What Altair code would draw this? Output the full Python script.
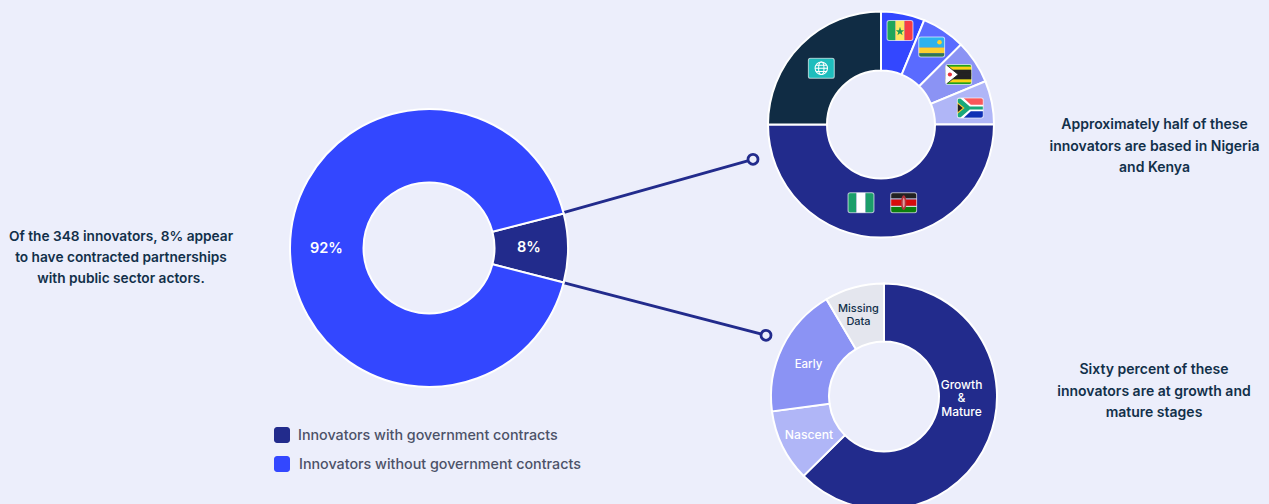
import base64
import altair as alt
import pandas as pd

FONT = "Inter"
BACKGROUND = "#eceefb"
NAVY = "#222b8c"
BLUE = "#3347ff"
TEXT_DARK = "#12304a"
TEXT_GREY = "#4c5268"

# Share of innovators with and without government contracts
contract_labels = ["Innovators with government contracts", "Innovators without government contracts"]
contract_values = [8, 92]
contract_colors = [NAVY, BLUE]

# Where the innovators with contracts are based, clockwise from the top
country_labels = ["Senegal", "Rwanda", "Zimbabwe", "South Africa", "Nigeria and Kenya", "Other"]
country_values = [6.25, 6.25, 6.25, 6.25, 50, 25]
country_colors = [BLUE, "#5a6bff", "#8b93f4", "#b0b6f7", NAVY, "#102c44"]

# Growth stage of the innovators with contracts, clockwise from the top
stage_labels = ["Growth & Mature", "Nascent", "Early", "Missing Data"]
stage_values = [62.6, 10.3, 18.6, 8.5]
stage_colors = [NAVY, "#b0b6f7", "#8b93f4", "#e4e6ee"]


def donut(labels, values, colors, cx, cy, outer, inner, start_deg=0.0):
    """One ring, stacked in the order of its labels and started at start_deg."""
    table = pd.DataFrame({"label": labels, "value": values, "order": range(len(labels))})
    start = start_deg * 3.141592653589793 / 180
    return alt.Chart(table).mark_arc(
        radius=outer, radius2=inner, stroke="#ffffff", strokeWidth=2
    ).encode(
        x=alt.value(cx),
        y=alt.value(cy),
        theta=alt.Theta(
            "value:Q",
            stack=True,
            scale=alt.Scale(domain=[0, sum(values)], range=[start, start + 2 * 3.141592653589793]),
        ),
        order=alt.Order("order:Q"),
        color=alt.Color(
            "label:N", scale=alt.Scale(domain=labels, range=colors), legend=None
        ),
    )


def text(content, x, y, size=14, weight=600, color=TEXT_DARK, align="center"):
    return alt.Chart(pd.DataFrame({"t": [content]})).mark_text(
        font=FONT, fontSize=size, fontWeight=weight, color=color, align=align, baseline="middle"
    ).encode(x=alt.value(x), y=alt.value(y), text="t:N")


def paragraph(lines, x, y, step, **style):
    return [text(line, x, y + i * step, **style) for i, line in enumerate(lines)]


def connector(x1, y1, x2, y2):
    line = alt.Chart(pd.DataFrame({"a": [0]})).mark_rule(color=NAVY, strokeWidth=2.8).encode(
        x=alt.value(x1), x2=alt.value(x2), y=alt.value(y1), y2=alt.value(y2)
    )
    end = alt.Chart(pd.DataFrame({"a": [0]})).mark_point(
        filled=True, fill=BACKGROUND, stroke=NAVY, strokeWidth=2.8, size=100, opacity=1
    ).encode(x=alt.value(x2), y=alt.value(y2))
    return [line, end]


def swatch(x, y, color, side=16):
    return alt.Chart(pd.DataFrame({"a": [0]})).mark_rect(color=color, cornerRadius=3).encode(
        x=alt.value(x), x2=alt.value(x + side), y=alt.value(y), y2=alt.value(y + side)
    )


def flag_svg(body):
    """Wrap flag artwork in a small rounded badge with a pale outline."""
    svg = (
        '<svg xmlns="http://www.w3.org/2000/svg" viewBox="0 0 27 21" width="108" height="84">'
        '<defs><clipPath id="c"><rect x="1" y="1" width="25" height="19" rx="2"/></clipPath></defs>'
        f'<g clip-path="url(#c)">{body}</g>'
        '<rect x="1" y="1" width="25" height="19" rx="2" fill="none" stroke="#ffffff" stroke-opacity="0.65" stroke-width="1"/>'
        "</svg>"
    )
    return "data:image/svg+xml;base64," + base64.b64encode(svg.encode()).decode()


def r(x, y, w, h, fill):
    return f'<rect x="{x}" y="{y}" width="{w}" height="{h}" fill="{fill}"/>'


FLAGS = {
    "senegal": r(0, 0, 9, 21, "#1fa65a") + r(9, 0, 9, 21, "#ffe761") + r(18, 0, 9, 21, "#f73c44")
    + '<polygon points="13.5,7.5 14.6,10.7 17.5,10.7 15.2,12.6 16,15.5 13.5,13.7 11,15.5 11.8,12.6 9.5,10.7 12.4,10.7" fill="#1d9d55" transform="translate(0,-0.5)"/>',
    "rwanda": r(0, 0, 27, 11, "#2db2ee") + r(0, 11, 27, 5.5, "#fdd02f") + r(0, 16.5, 27, 4.5, "#30774e")
    + '<circle cx="21" cy="6" r="2.2" fill="#fdd02f"/>',
    "zimbabwe": r(0, 0, 27, 21, "#1fa11f") + r(0, 3, 27, 3, "#fcd116") + r(0, 15, 27, 3, "#fcd116")
    + r(0, 6, 27, 9, "#222222") + r(0, 9, 27, 3, "#222222")
    + '<polygon points="0,0 13,10.5 0,21" fill="#ffffff" stroke="#222222" stroke-width="0.8"/>'
    + '<circle cx="5" cy="10.5" r="2" fill="#e8303a"/>',
    "south_africa": r(0, 0, 27, 10.5, "#f9585a") + r(0, 10.5, 27, 10.5, "#0f2fb5")
    + '<polygon points="0,0 6,0 14,7.5 27,7.5 27,13.5 14,13.5 6,21 0,21" fill="#ffffff"/>'
    + '<polygon points="0,1.5 4,1.5 13,9 27,9 27,12 13,12 4,19.5 0,19.5" fill="#19a87a"/>'
    + '<polygon points="0,4 8,10.5 0,17" fill="#fdc52f"/>'
    + '<polygon points="0,5.5 6.2,10.5 0,15.5" fill="#222222"/>',
    "nigeria": r(0, 0, 9, 21, "#1b9e6a") + r(9, 0, 9, 21, "#ffffff") + r(18, 0, 9, 21, "#1b9e6a"),
    "kenya": r(0, 0, 27, 6.5, "#222222") + r(0, 6.5, 27, 1, "#ffffff") + r(0, 7.5, 27, 6, "#d80b0b")
    + r(0, 13.5, 27, 1, "#ffffff") + r(0, 14.5, 27, 6.5, "#0c7f0c")
    + '<ellipse cx="13.5" cy="10.5" rx="2.6" ry="7" fill="#b5323a"/>'
    + '<ellipse cx="13.5" cy="10.5" rx="1" ry="4.5" fill="#e0a0a0"/>',
    "globe": r(0, 0, 27, 21, "#1ebdbd")
    + '<g fill="none" stroke="#ffffff" stroke-width="1"><circle cx="13.5" cy="10.5" r="6"/>'
    + '<ellipse cx="13.5" cy="10.5" rx="2.6" ry="6"/><path d="M7.5 10.5H19.5M8.4 7.5H18.6M8.4 13.5H18.6"/></g>',
}


def flag(name, cx, cy, w=28, h=22):
    return alt.Chart(pd.DataFrame({"a": [0]})).mark_image(
        url=flag_svg(FLAGS[name]), width=w, height=h, aspect=False
    ).encode(x=alt.value(cx), y=alt.value(cy))


layers = [
    *connector(563.3, 212.7, 753, 159.3),
    *connector(563.3, 282.7, 766, 335.3),
    donut(contract_labels, contract_values, contract_colors, 429, 248, 139, 65.5, start_deg=75.6),
    donut(country_labels, country_values, country_colors, 881, 124.5, 113, 54),
    donut(stage_labels, stage_values, stage_colors, 884, 396.5, 113, 55),
    text("92%", 326.5, 248.5, size=14.5, weight=600, color="#ffffff"),
    text("8%", 529, 248, size=14.5, weight=600, color="#ffffff"),
    flag("senegal", 900, 30.5),
    flag("rwanda", 931.7, 47),
    flag("zimbabwe", 958.7, 74.5),
    flag("south_africa", 970.3, 108),
    flag("globe", 821.3, 68.3),
    flag("nigeria", 861, 202.7),
    flag("kenya", 903.7, 202.7),
    *paragraph(["Missing", "Data"], 858.5, 308.5, 13, size=11, weight=500),
    text("Early", 808.5, 365, size=11.5, weight=500, color="#ffffff"),
    text("Nascent", 809, 435, size=12.2, weight=500, color="#ffffff"),
    *paragraph(["Growth", "&", "Mature"], 961.5, 384.5, 13.5, size=12, weight=500, color="#ffffff"),
    *paragraph(
        ["Of the 348 innovators, 8% appear", "to have contracted partnerships", "with public sector actors."],
        121, 236.5, 21, size=13.7,
    ),
    *paragraph(
        ["Approximately half of these", "innovators are based in Nigeria", "and Kenya"],
        1154.5, 125, 21.5,
    ),
    *paragraph(
        ["Sixty percent of these", "innovators are at growth and", "mature stages"],
        1154, 370, 21.5,
    ),
    swatch(274, 427, contract_colors[0]),
    swatch(274, 456, contract_colors[1]),
    text(contract_labels[0], 298, 435.5, size=14.3, weight=500, color=TEXT_GREY, align="left"),
    text(contract_labels[1], 299, 465, size=14.3, weight=500, color=TEXT_GREY, align="left"),
]

chart = (
    alt.layer(*layers)
    .resolve_scale(theta="independent", color="independent")
    .properties(width=1269, height=504, padding=0, background=BACKGROUND, autosize=alt.AutoSizeParams(type="none"))
    .configure_view(stroke=None)
)

chart.save("out.html", embed_options={"renderer": "svg", "actions": False})
